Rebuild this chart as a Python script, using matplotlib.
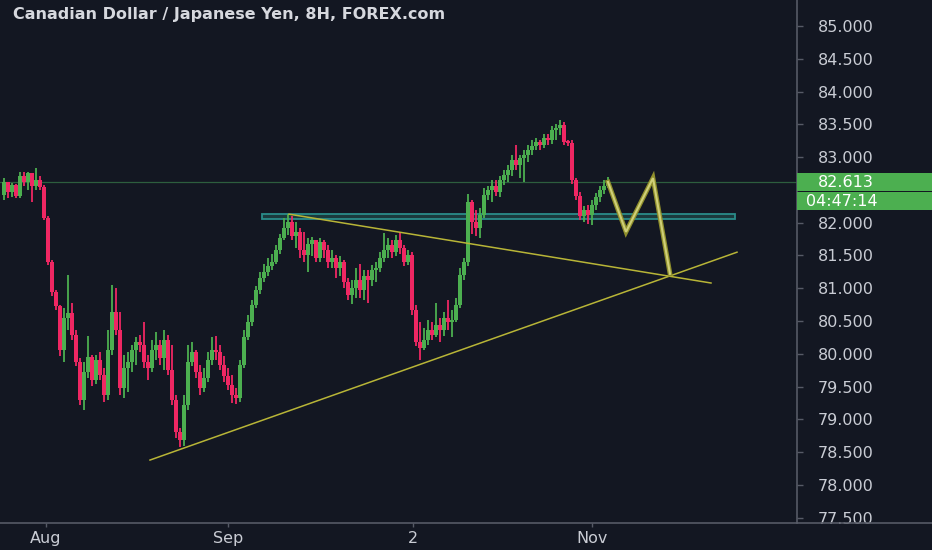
import numpy as np
import matplotlib
matplotlib.use("Agg")
import matplotlib.pyplot as plt
import matplotlib.transforms as mtransforms
from matplotlib.patches import Rectangle

# ---- data: CADJPY 8H candles ----
first_open = 82.42
closes = [82.62, 82.47, 82.58, 82.41, 82.71, 82.62, 82.76, 82.56, 82.65, 82.55,
          82.07, 81.40, 80.95, 80.73, 80.06, 80.55, 80.62, 80.29, 79.88, 79.30,
          79.73, 79.95, 79.60, 79.91, 79.68, 79.37, 80.06, 80.64, 80.37, 79.48,
          79.79, 79.88, 80.06, 80.18, 80.14, 79.88, 79.79, 80.06, 80.14, 79.94,
          80.21, 79.76, 79.30, 78.81, 78.69, 79.22, 79.88, 80.03, 79.73, 79.48,
          79.63, 79.91, 80.06, 80.03, 79.83, 79.66, 79.53, 79.37, 79.33, 79.83,
          80.25, 80.49, 80.75, 80.98, 81.16, 81.25, 81.34, 81.40, 81.59, 81.77,
          81.92, 82.01, 81.80, 81.86, 81.59, 81.51, 81.68, 81.74, 81.46, 81.71,
          81.59, 81.40, 81.46, 81.31, 81.40, 81.10, 80.90, 81.01, 81.13, 80.98,
          81.19, 81.13, 81.28, 81.31, 81.46, 81.59, 81.66, 81.55, 81.74, 81.62,
          81.40, 81.51, 80.67, 80.18, 80.09, 80.21, 80.37, 80.29, 80.44, 80.37,
          80.55, 80.49, 80.52, 80.75, 81.20, 81.40, 82.32, 82.01, 81.92, 82.12,
          82.42, 82.50, 82.56, 82.47, 82.65, 82.73, 82.81, 82.96, 82.88, 82.99,
          83.03, 83.11, 83.17, 83.23, 83.19, 83.29, 83.26, 83.41, 83.45, 83.49,
          83.23, 83.22, 82.65, 82.41, 82.10, 82.19, 82.12, 82.27, 82.39, 82.50,
          82.56, 82.613]
highs = [82.68, 82.62, 82.61, 82.59, 82.77, 82.77, 82.77, 82.74, 82.84, 82.71,
         82.58, 82.10, 81.43, 80.98, 80.75, 80.70, 81.20, 80.78, 80.37, 79.94,
         79.88, 80.27, 79.98, 79.98, 80.03, 79.79, 80.37, 81.05, 81.01, 80.64,
         79.98, 80.03, 80.14, 80.25, 80.29, 80.49, 79.98, 80.21, 80.33, 80.21,
         80.37, 80.29, 80.14, 79.37, 78.87, 79.37, 80.14, 80.18, 80.06, 79.83,
         79.79, 80.03, 80.26, 80.27, 80.14, 79.97, 79.79, 79.68, 79.48, 79.91,
         80.37, 80.59, 80.82, 81.04, 81.25, 81.37, 81.46, 81.52, 81.66, 81.83,
         82.07, 82.13, 82.10, 82.01, 81.92, 81.86, 81.77, 81.78, 81.74, 81.77,
         81.74, 81.66, 81.59, 81.51, 81.49, 81.43, 81.16, 81.13, 81.31, 81.37,
         81.28, 81.28, 81.36, 81.40, 81.55, 81.85, 81.77, 81.74, 81.81, 81.86,
         81.66, 81.59, 81.55, 80.75, 80.49, 80.40, 80.52, 80.49, 80.78, 80.55,
         80.64, 80.82, 80.67, 80.85, 81.31, 81.46, 82.44, 82.35, 82.19, 82.23,
         82.53, 82.56, 82.65, 82.65, 82.71, 82.81, 82.88, 83.03, 83.19, 83.03,
         83.11, 83.19, 83.26, 83.29, 83.26, 83.35, 83.35, 83.48, 83.51, 83.57,
         83.54, 83.26, 83.26, 82.68, 82.47, 82.26, 82.27, 82.35, 82.45, 82.56,
         82.65, 82.70]
lows = [82.35, 82.38, 82.39, 82.38, 82.38, 82.56, 82.50, 82.32, 82.50, 82.50,
        82.04, 81.36, 80.88, 80.67, 79.97, 79.88, 80.37, 80.21, 79.82, 79.22,
        79.15, 79.63, 79.51, 79.54, 79.60, 79.27, 79.30, 79.98, 80.29, 79.37,
        79.33, 79.42, 79.73, 79.83, 80.03, 79.79, 79.60, 79.73, 79.91, 79.83,
        79.76, 79.68, 79.22, 78.72, 78.58, 78.60, 79.15, 79.82, 79.63, 79.37,
        79.42, 79.57, 79.83, 79.91, 79.76, 79.57, 79.45, 79.25, 79.24, 79.27,
        79.79, 80.21, 80.43, 80.70, 80.91, 81.10, 81.19, 81.28, 81.37, 81.52,
        81.74, 81.81, 81.74, 81.62, 81.46, 81.40, 81.25, 81.49, 81.40, 81.40,
        81.46, 81.31, 81.31, 81.16, 81.19, 81.01, 80.82, 80.76, 80.85, 80.85,
        80.82, 80.78, 81.04, 81.10, 81.25, 81.40, 81.46, 81.46, 81.49, 81.52,
        81.34, 81.36, 80.59, 80.12, 79.91, 80.06, 80.14, 80.21, 80.25, 80.18,
        80.27, 80.37, 80.25, 80.49, 80.70, 81.13, 81.34, 81.83, 81.80, 81.77,
        82.07, 82.35, 82.32, 82.41, 82.39, 82.58, 82.62, 82.71, 82.81, 82.68,
        82.62, 82.93, 83.03, 83.11, 83.11, 83.14, 83.19, 83.20, 83.26, 83.34,
        83.19, 83.17, 82.59, 82.35, 82.04, 82.01, 81.98, 81.97, 82.19, 82.32,
        82.44, 82.53]

last_price = 82.613
countdown = "04:47:14"
month_ticks = [10.5, 56, 102.25, 147]
month_labels = ["Aug", "Sep", "2", "Nov"]
price_ticks = [77.5, 78.0, 78.5, 79.0, 79.5, 80.0, 80.5, 81.0, 81.5, 82.0,
               83.0, 83.5, 84.0, 84.5, 85.0]

# drawings (bar index, price)
falling_line = ([71.25, 176.75], [82.13, 81.08])
rising_line = ([36.5, 183.25], [78.38, 81.55])
zigzag = ([151, 155.5, 162.25, 166.5], [82.62, 81.86, 82.68, 81.22])
zone = (64.5, 182.75, 82.06, 82.13)

BG = "#131722"
UP = "#4caf50"
DOWN = "#ef2763"
TXT = "#c9ccd4"
AXC = "#565a66"

closes = np.array(closes)
opens = np.concatenate([[first_open], closes[:-1]])
highs = np.array(highs)
lows = np.array(lows)
idx = np.arange(len(closes))
up = closes >= opens
cols = np.where(up, UP, DOWN)

fig = plt.figure(figsize=(9.32, 5.5), dpi=100, facecolor=BG)
ax = fig.add_axes([0, 27 / 550, 797 / 932, 523 / 550])
ax.set_facecolor(BG)

ax.vlines(idx, lows, highs, colors=cols, lw=1.3, zorder=3)
body = np.abs(closes - opens)
body = np.maximum(body, 0.02)
ax.bar(idx, body, bottom=np.minimum(opens, closes), width=0.95,
       color=cols, lw=0, zorder=3)

# last price line
ax.axhline(last_price, color="#2d5e3e", lw=0.9, zorder=1)

# zone rectangle
ax.add_patch(Rectangle((zone[0], zone[2]), zone[1] - zone[0], zone[3] - zone[2],
                       facecolor="#1b3a3d", edgecolor="#2a8c8a", lw=1.3, zorder=2))

# trend lines
ax.plot(*falling_line, color="#b8b537", lw=1.1, zorder=4)
ax.plot(*rising_line, color="#b8b537", lw=1.1, zorder=4)
ax.plot(*zigzag, color="#8f8f2c", lw=3.4, zorder=5, solid_joinstyle="miter")
ax.plot(*zigzag, color="#cfcf78", lw=1.5, zorder=6, solid_joinstyle="miter")

ax.set_xlim(-1, 198.25)
ax.set_ylim(77.42, 85.396)

for s in ["top", "left"]:
    ax.spines[s].set_visible(False)
ax.spines["right"].set_color(AXC)
ax.spines["bottom"].set_color(AXC)
ax.spines["right"].set_linewidth(1.2)
ax.spines["bottom"].set_linewidth(1.2)

ax.yaxis.tick_right()
ax.set_yticks(price_ticks)
ax.set_yticklabels([f"{v:.3f}" for v in price_ticks])
ax.tick_params(axis="y", colors=AXC, labelcolor=TXT, length=4, width=1,
               pad=11, labelsize=11.5)
ax.set_xticks(month_ticks)
ax.set_xticklabels(month_labels)
ax.tick_params(axis="x", colors=AXC, labelcolor=TXT, length=3, width=1,
               pad=3, labelsize=11.5)

# current price / countdown labels on price scale
trans = mtransforms.blended_transform_factory(fig.transFigure, ax.transData)
h = 18 / 65.6
ax.add_patch(Rectangle((797 / 932, last_price - h / 2), 135 / 932, h,
                       transform=trans, facecolor=UP, lw=0, clip_on=False, zorder=10))
ax.add_patch(Rectangle((797 / 932, last_price - h * 1.5 - 0.01), 135 / 932, h,
                       transform=trans, facecolor=UP, lw=0, clip_on=False, zorder=10))
ax.text(818 / 932, last_price, f"{last_price:.3f}", transform=trans, color="white",
        fontsize=11.5, va="center", ha="left", zorder=11, clip_on=False)
ax.text(806 / 932, last_price - h - 0.01, countdown, transform=trans, color="white",
        fontsize=11.5, va="center", ha="left", zorder=11, clip_on=False)

fig.text(13 / 932, 1 - 15 / 550, "Canadian Dollar / Japanese Yen, 8H, FOREX.com",
         color="#d6d8de", fontsize=11.5, fontweight="bold", va="center", ha="left")

# bottom axis line across the price scale too
fig.add_artist(plt.Line2D([797 / 932, 1], [27 / 550, 27 / 550],
                          transform=fig.transFigure, color=AXC, lw=1.2))

fig.savefig("out.png", dpi=100, facecolor=BG)
